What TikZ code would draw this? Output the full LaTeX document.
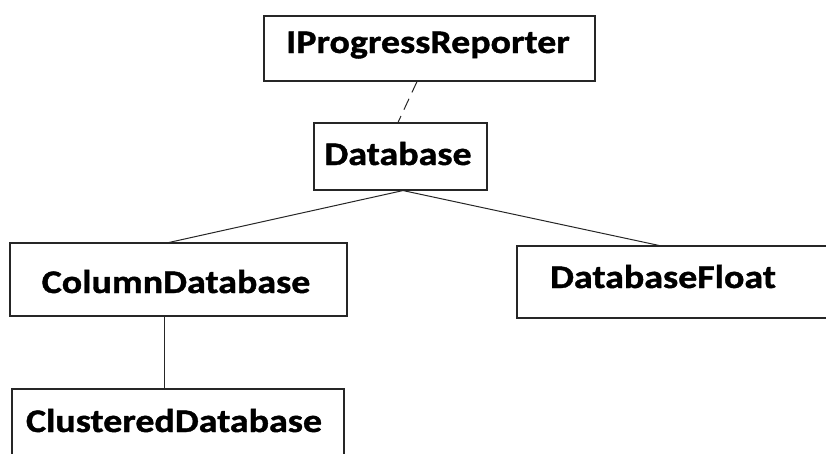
\documentclass[tikz,border=0pt]{standalone}
\usepackage{fontspec}
\setmainfont{Carlito}[BoldFeatures={FakeStretch=1.15,FakeBold=1.2}]
\begin{document}
\begin{tikzpicture}[x=1pt,y=-1pt,
  box/.style={draw=black!85, line width=1.1pt, rectangle, inner sep=0pt},
  lbl/.style={font=\fontsize{33}{38}\selectfont\bfseries, anchor=base, inner sep=0pt},
  link/.style={draw=black!85, line width=1pt}]
\useasboundingbox (0,0) rectangle (826,453);
\clip (0,0) rectangle (826,453);
% class boxes
\node[box, minimum width=331pt, minimum height=65pt] (ipr) at (429.5,48.5) {};
\node[box, minimum width=173pt, minimum height=67pt] (db)  at (400.5,156.5) {};
\node[box, minimum width=337pt, minimum height=73pt] (col) at (178.5,279.5) {};
\node[box, minimum width=332pt, minimum height=90pt] (clu) at (178,434) {};
\node[box, minimum width=340pt, minimum height=72pt] (dbf) at (687,282) {};
% class names
\node[lbl] (tipr) at (428,53) {IProgressReporter};
\node[lbl] (tdb)  at (398,165) {Database};
\node[lbl] (tcol) at (176,293) {ColumnDatabase};
\node[lbl] (tclu) at (174,432) {ClusteredDatabase};
\node[lbl] (tdbf) at (663,288) {DatabaseFloat};
% connectors
\draw[link, dash pattern=on 12pt off 7pt] ([xshift=-12.5pt]ipr.south) -- ([xshift=-2.5pt]db.north);
\draw[link] ([xshift=2.5pt]db.south) -- ([xshift=-9.5pt]col.north);
\draw[link] ([xshift=2.5pt]db.south) -- ([xshift=-28pt]dbf.north);
\draw[link] ([xshift=-14.5pt]col.south) -- ([xshift=-14pt]clu.north);
\end{tikzpicture}
\end{document}
